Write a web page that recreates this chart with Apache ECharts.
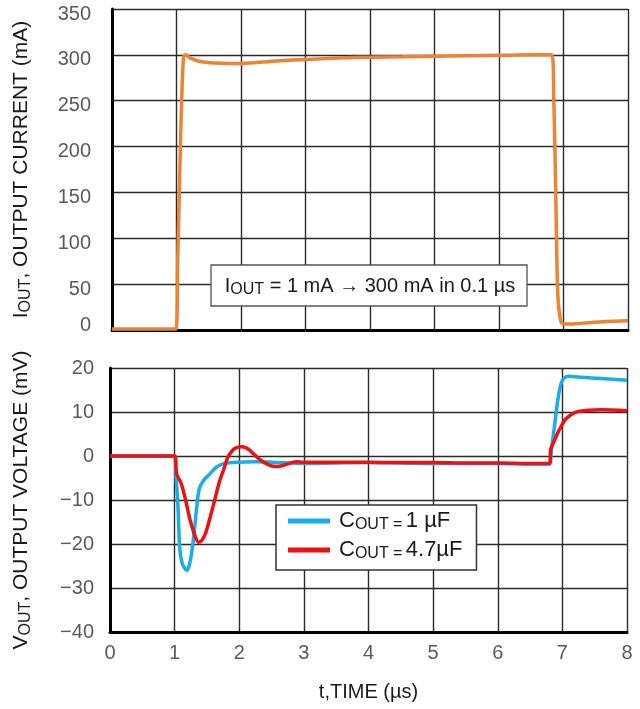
<!DOCTYPE html>
<html>
<head>
<meta charset="utf-8">
<script src="https://cdn.jsdelivr.net/npm/echarts@6/dist/echarts.min.js"></script>
<style>
html,body{margin:0;padding:0;background:#fff;}
#chart{width:640px;height:709px;}
</style>
</head>
<body>
<div id="chart"></div>
<script>
// ---- data ----
var xTicks = [0, 1, 2, 3, 4, 5, 6, 7, 8];
var currentTicks = [0, 50, 100, 150, 200, 250, 300, 350];
var voltageTicks = [-40, -30, -20, -10, 0, 10, 20];

var iTime = [0, 0.99, 1.02, 1.05, 1.08, 1.11, 1.14, 1.2, 1.35, 1.6, 1.85, 2.2, 2.6, 3.0, 3.5, 4.0, 4.5, 5.0, 5.5, 6.0, 6.5, 6.82, 6.85, 6.88, 6.91, 6.95, 6.99, 7.1, 7.3, 7.6, 8.0];
var iOut  = [1, 1, 80, 170, 250, 298, 300, 297, 293, 291, 290.5, 291.5, 293.5, 295, 296.5, 297.5, 298, 298.5, 299, 299.5, 300, 300, 250, 150, 40, 12, 7, 6.5, 7.5, 9, 10];

var v1Time = [0, 1.0, 1.02, 1.05, 1.08, 1.12, 1.19, 1.24, 1.29, 1.34, 1.38, 1.45, 1.55, 1.65, 1.75, 1.9, 2.25, 2.5, 3.0, 3.5, 4.0, 4.5, 5.0, 5.5, 6.0, 6.5, 6.8, 6.83, 6.88, 6.93, 6.98, 7.03, 7.1, 7.3, 7.6, 8.0];
var v1Out  = [0, 0, -4, -11, -21, -24.5, -26, -24, -19, -12, -7.5, -5.5, -4, -2.5, -1.8, -1.5, -1.3, -1.4, -1.7, -1.6, -1.5, -1.6, -1.7, -1.7, -1.7, -1.8, -1.8, 1.5, 7, 12.8, 16.5, 17.8, 18.1, 17.9, 17.6, 17.2];

var v2Time = [0, 1.0, 1.03, 1.1, 1.17, 1.23, 1.3, 1.37, 1.42, 1.48, 1.55, 1.62, 1.69, 1.76, 1.82, 1.88, 1.94, 2.03, 2.1, 2.17, 2.24, 2.32, 2.4, 2.48, 2.57, 2.66, 2.75, 2.88, 3.0, 3.5, 4.0, 4.5, 5.0, 5.5, 6.0, 6.5, 6.8, 6.82, 6.87, 6.92, 6.98, 7.04, 7.1, 7.18, 7.25, 7.4, 7.6, 8.0];
var v2Out  = [0, 0, -4, -6.2, -10, -14, -17.5, -19.6, -19.2, -17.5, -13.9, -10, -6, -3, -0.4, 1.0, 1.8, 2.1, 1.9, 1.2, 0.2, -0.8, -1.6, -2.2, -2.4, -2.2, -1.8, -1.3, -1.4, -1.4, -1.4, -1.5, -1.5, -1.6, -1.6, -1.7, -1.7, 1.5, 3.3, 5, 6.7, 8.2, 9.0, 9.8, 10.1, 10.4, 10.5, 10.3];

var seriesNames = ['COUT = 1 µF', 'COUT = 4.7µF'];

function pairs(t, v) { return t.map(function (x, i) { return [x, v[i]]; }); }

var FONT = '"Liberation Sans", Arial, Helvetica, sans-serif';
var richSub = {
  m: { fontFamily: FONT, fontSize: 21, color: '#1a1a1a', lineHeight: 26 },
  s: { fontFamily: FONT, fontSize: 16, color: '#1a1a1a', lineHeight: 14, verticalAlign: 'bottom' }
};
var richLeg = {
  m: { fontFamily: FONT, fontSize: 22, color: '#1a1a1a', lineHeight: 24 },
  s: { fontFamily: FONT, fontSize: 16, color: '#1a1a1a', lineHeight: 13, verticalAlign: 'bottom' }
};
function minusFmt(v) { return String(v).replace('-', '\u2212'); }

var chart = echarts.init(document.getElementById('chart'), null, { renderer: 'canvas' });

var gridLine = { show: true, lineStyle: { color: '#2a2a2a', width: 1.4 } };
var tickLabel = { fontFamily: FONT, fontSize: 20, color: '#5a5a5a' };

chart.setOption({
  animation: false,
  backgroundColor: '#fff',
  grid: [
    { left: 112, top: 9, width: 516, height: 321, outerBoundsMode: 'none', containLabel: false },
    { left: 110, top: 368, width: 517, height: 264, outerBoundsMode: 'none', containLabel: false }
  ],
  xAxis: [
    { type: 'value', gridIndex: 0, min: xTicks[0], max: xTicks[xTicks.length - 1], interval: 1,
      axisLine: { show: true, onZero: false, lineStyle: { color: '#000', width: 3 } },
      axisTick: { show: false }, axisLabel: { show: false }, splitLine: gridLine },
    { type: 'value', gridIndex: 1, min: xTicks[0], max: xTicks[xTicks.length - 1], interval: 1,
      axisLine: { show: true, onZero: false, lineStyle: { color: '#000', width: 3 } },
      axisTick: { show: false },
      axisLabel: Object.assign({ margin: 11 }, tickLabel),
      splitLine: gridLine,
      name: 't,TIME (µs)', nameLocation: 'middle', nameGap: 50,
      nameTextStyle: { fontFamily: FONT, fontSize: 20, color: '#1a1a1a' } }
  ],
  yAxis: [
    { type: 'value', gridIndex: 0, min: currentTicks[0], max: currentTicks[currentTicks.length - 1], interval: 50,
      axisLine: { show: true, lineStyle: { color: '#000', width: 3 } },
      axisTick: { show: false },
      axisLabel: Object.assign({ margin: 21,
        formatter: function (v) { return v === 0 ? '{z|0}' : '{d|' + v + '}'; },
        rich: {
          d: { fontFamily: FONT, fontSize: 20, color: '#5a5a5a', padding: [10, 0, 0, 0] },
          z: { fontFamily: FONT, fontSize: 20, color: '#5a5a5a', padding: [0, 0, 10, 0] }
        } }, tickLabel),
      splitLine: gridLine,
      name: '{m|I}{s|OUT}{m|, OUTPUT CURRENT (mA)}', nameLocation: 'middle', nameGap: 78,
      nameTextStyle: { rich: richSub } },
    { type: 'value', gridIndex: 1, min: voltageTicks[0], max: voltageTicks[voltageTicks.length - 1], interval: 10,
      axisLine: { show: true, onZero: false, lineStyle: { color: '#000', width: 3 } },
      axisTick: { show: false },
      axisLabel: Object.assign({ margin: 16, formatter: minusFmt }, tickLabel),
      splitLine: gridLine,
      name: '{m|V}{s|OUT}{m|, OUTPUT VOLTAGE (mV)}', nameLocation: 'middle', nameGap: 76,
      nameTextStyle: { rich: richSub } }
  ],
  legend: {
    orient: 'vertical', left: 276, top: 505,
    padding: [5, 14, 8, 12], itemGap: 6,
    backgroundColor: '#fff', borderColor: '#333', borderWidth: 1.5,
    icon: 'rect', itemWidth: 42, itemHeight: 5,
    data: seriesNames,
    formatter: function (name) {
      var parts = name.split(' = ');
      return '{m|C}{s|OUT =} {m|' + parts[1] + '}';
    },
    textStyle: { rich: richLeg, padding: [0, 0, 0, 4] }
  },
  graphic: [
    { type: 'rect', shape: { x: 211, y: 265, width: 316, height: 41 },
      style: { fill: '#fff', stroke: '#555', lineWidth: 1.3 }, z: 10 },
    { type: 'text', x: 370, y: 286, z: 11,
      style: { text: '{m|I}{s|OUT}{m| = 1 mA → 300 mA in 0.1 µs}', align: 'center', verticalAlign: 'middle',
        rich: {
          m: { fontFamily: FONT, fontSize: 20, fill: '#1a1a1a', lineHeight: 24 },
          s: { fontFamily: FONT, fontSize: 16, fill: '#1a1a1a', lineHeight: 13, verticalAlign: 'bottom' }
        } } }
  ],
  series: [
    { type: 'line', name: 'IOUT', xAxisIndex: 0, yAxisIndex: 0, data: pairs(iTime, iOut),
      showSymbol: false, smooth: 0.3, lineStyle: { color: '#EE8433', width: 3.5 }, itemStyle: { color: '#EE8433' } },
    { type: 'line', name: seriesNames[0], xAxisIndex: 1, yAxisIndex: 1, data: pairs(v1Time, v1Out),
      showSymbol: false, smooth: 0.3, lineStyle: { color: '#1AAEE8', width: 3.5 }, itemStyle: { color: '#1AAEE8' } },
    { type: 'line', name: seriesNames[1], xAxisIndex: 1, yAxisIndex: 1, data: pairs(v2Time, v2Out),
      showSymbol: false, smooth: 0.3, lineStyle: { color: '#EE1111', width: 3.5 }, itemStyle: { color: '#EE1111' } }
  ]
});
</script>
</body>
</html>
